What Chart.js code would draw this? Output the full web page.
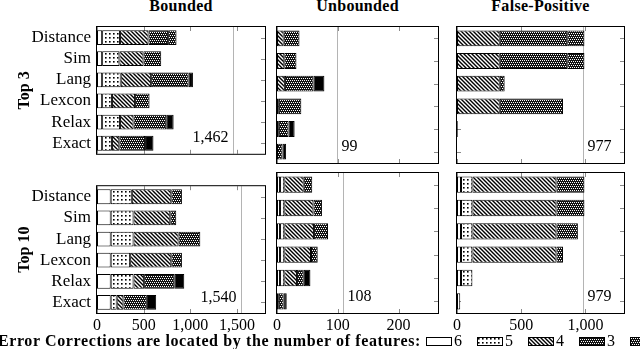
<!DOCTYPE html>
<html><head><meta charset="utf-8">
<script src="https://cdn.jsdelivr.net/npm/chart.js@4/dist/chart.umd.min.js"></script>
<style>
body{margin:0;width:640px;height:349px;overflow:hidden;background:#fff;position:relative;font-family:'Liberation Serif',serif;color:#000}
canvas{position:absolute}
.ct{position:absolute;top:-4px;font-weight:bold;font-size:16px;line-height:20px;white-space:nowrap;transform:translateX(-50%);letter-spacing:0.3px}
.lg{position:absolute;top:331px;font-size:16px;line-height:20px;white-space:nowrap}
</style></head><body>
<script>
// ---- data ----
const categories = ['Distance','Sim','Lang','Lexcon','Relax','Exact'];
const seriesNames = ['6','5','4','3','2','1'];
const columnTitles = ['Bounded','Unbounded','False-Positive'];
const rowTitles = ['Top 3','Top 10'];
const legendTitle = 'Error Corrections are located by the number of features:';

// rows = series 6,5,4,3,2,1 ; columns = categories
const boundedTop3 = [
  [55,55,55,55,55,55],
  [192,185,199,105,192,105],
  [305,258,326,248,144,79],
  [210,190,402,155,351,276],
  [90,0,0,0,0,0],
  [0,0,46,0,79,90]
];
const boundedTop10 = [
  [147,147,147,147,147,147],
  [226,244,244,208,244,64],
  [423,394,483,441,114,72],
  [114,64,233,114,323,251],
  [0,0,0,0,0,0],
  [0,0,0,0,107,100]
];
const unboundedTop3 = [
  [0,0,0,0,0,0],
  [0,0,0,0,3,0],
  [11,12,13,3,0,0],
  [26,20,47,37,16,9],
  [0,0,0,0,0,0],
  [0,0,18,0,10,6]
];
const unboundedTop10 = [
  [5,5,5,5,5,3],
  [7,7,7,7,7,0],
  [32,48,49,44,21,0],
  [14,14,23,11,11,8],
  [0,0,0,0,0,0],
  [0,0,0,0,11,5]
];
const falsePositiveTop3 = [
  [0,0,0,0,0,0],
  [0,0,0,0,0,0],
  [333,333,333,333,0,0],
  [525,525,38,492,0,0],
  [134,134,0,0,0,0],
  [0,0,0,0,6,0]
];
const falsePositiveTop10 = [
  [31,31,31,31,31,25],
  [89,89,89,89,89,0],
  [654,654,654,654,0,0],
  [218,218,167,51,0,0],
  [0,0,0,0,0,0],
  [0,0,0,0,0,0]
];
const boundedTotals = [1462, 1540];
const unboundedTotals = [99, 108];
const falsePositiveTotals = [977, 979];
const boundedTicks = [0,500,1000,1500];
const unboundedTicks = [0,100,200];
const falsePositiveTicks = [0,500,1000];
const boundedMax = 1800, unboundedMax = 265, falsePositiveMax = 1300;

// ---- patterns ----
function tile(w,h,fn){const c=document.createElement('canvas');c.width=w;c.height=h;const g=c.getContext('2d');fn(g);return g.createPattern(c,'repeat');}
function makeFill(i){
  switch(i){
    case 0: return '#ffffff';
    case 1: return tile(4,4,g=>{g.fillStyle='#fff';g.fillRect(0,0,4,4);g.fillStyle='#000';g.fillRect(1,1,1.6,1.6);});
    case 2: return tile(4,4,g=>{g.fillStyle='#fff';g.fillRect(0,0,4,4);g.strokeStyle='#000';g.lineWidth=1.4;g.beginPath();
      g.moveTo(-1,-1);g.lineTo(5,5);g.moveTo(-1,3);g.lineTo(1,5);g.moveTo(3,-1);g.lineTo(5,1);g.stroke();});
    case 3: return tile(4,4,g=>{g.fillStyle='#111';g.fillRect(0,0,4,4);g.fillStyle='#fff';g.fillRect(0,0,1,1);g.fillRect(2,0,1,1);g.fillRect(1,2,1,1);g.fillRect(3,2,1,1);});
    case 4: return tile(4,4,g=>{g.fillStyle='#111';g.fillRect(0,0,4,4);g.fillStyle='#fff';g.fillRect(1,1,1,1);g.fillRect(3,1,1,1);g.fillRect(0,3,1,1);g.fillRect(2,3,1,1);});
    default: return '#000000';
  }
}
const fills = seriesNames.map((_,i)=>makeFill(i));

const FAM = "'Liberation Serif', 'Times New Roman', serif";
Chart.defaults.font.family = FAM;
Chart.defaults.font.size = 16;
Chart.defaults.color = '#000';

const framePlugin = {
  id:'frame',
  beforeDatasetsDraw(chart){
    const o = chart.options.plugins.frame; const a = chart.chartArea; const ctx = chart.ctx;
    const xs = chart.scales.x, ys = chart.scales.y;
    ctx.save();
    ctx.strokeStyle = '#8a8a8a'; ctx.lineWidth = 1;
    ctx.beginPath();
    o.ticks.forEach(v=>{const x=Math.round(xs.getPixelForValue(v))+0.5;ctx.moveTo(x,a.top);ctx.lineTo(x,a.top+4);ctx.moveTo(x,a.bottom);ctx.lineTo(x,a.bottom-4);});
    categories.forEach((c,i)=>{const y=Math.round(ys.getPixelForValue(i))+0.5;ctx.moveTo(a.left,y);ctx.lineTo(a.left+4,y);ctx.moveTo(a.right,y);ctx.lineTo(a.right-4,y);});
    ctx.stroke();
    // total line
    const tx = Math.round(xs.getPixelForValue(o.total))+0.5;
    ctx.strokeStyle = '#b4b4b4';
    ctx.beginPath();ctx.moveTo(tx,a.top);ctx.lineTo(tx,a.bottom);ctx.stroke();
    ctx.fillStyle='#000';ctx.font="16px "+FAM;ctx.textBaseline='middle';
    const ty = ys.getPixelForValue(categories.length-1)-5;
    const label = o.total.toLocaleString('en-US');
    if(o.align==='right'){ctx.textAlign='right';ctx.fillText(label,tx-5,ty);}else{ctx.textAlign='left';ctx.fillText(label,tx+4,ty);}
    ctx.restore();
  },
  afterDatasetsDraw(chart){
    const a = chart.chartArea; const ctx = chart.ctx;
    ctx.save();ctx.strokeStyle='#000';ctx.lineWidth=1;
    ctx.strokeRect(a.left-0.5,a.top-0.5,a.right-a.left+1,a.bottom-a.top+1);
    ctx.restore();
  }
};

const cols = [
  {left:0,width:270,padL:0,padR:5,yw:97,max:boundedMax,ticks:boundedTicks,totals:boundedTotals,align:'right',data:[boundedTop3,boundedTop10]},
  {left:270,width:170,padL:7,padR:2,max:unboundedMax,ticks:unboundedTicks,totals:unboundedTotals,align:'left',data:[unboundedTop3,unboundedTop10]},
  {left:450,width:190,padL:7,padR:16,max:falsePositiveMax,ticks:falsePositiveTicks,totals:falsePositiveTotals,align:'left',data:[falsePositiveTop3,falsePositiveTop10]}
];
const rows = [
  {top:0,height:170,padT:27,xh:7},
  {top:170,height:165,padT:3,xh:22}
];

cols.forEach((c,ci)=>{
  const t=document.createElement('div');t.className='ct';t.textContent=columnTitles[ci];
  t.style.left=(c.left+c.padL+(c.yw||0)+ (c.width-c.padL-c.padR-(c.yw||0))/2)+'px';
  document.body.appendChild(t);
  rows.forEach((r,ri)=>{
    const cv=document.createElement('canvas');
    cv.width=c.width;cv.height=r.height;cv.style.left=c.left+'px';cv.style.top=r.top+'px';
    document.body.appendChild(cv);
    const panel=c.data[ri];
    new Chart(cv,{
      type:'bar',
      data:{labels:categories,datasets:seriesNames.map((n,si)=>({
        label:n,data:panel[si].map(v=>v===0?null:v),backgroundColor:fills[si],
        borderColor:'#000',borderWidth:1,borderSkipped:false,barPercentage:0.7,categoryPercentage:1
      }))},
      options:{
        indexAxis:'y',responsive:false,animation:false,devicePixelRatio:1,
        layout:{padding:{left:c.padL,right:c.padR,top:r.padT,bottom:0}},
        plugins:{legend:{display:false},tooltip:{enabled:false},
          frame:{ticks:c.ticks,total:c.totals[ri],align:c.align}},
        scales:{
          x:{stacked:true,min:0,max:c.max,
            afterBuildTicks:s=>{s.ticks=c.ticks.map(v=>({value:v}));},
            afterFit:s=>{s.height=r.xh;},
            grid:{display:false,drawTicks:false},border:{display:false},
            ticks:{display:ri===1,padding:3,maxRotation:0,autoSkip:false,font:{family:FAM,size:16},
              callback:v=>Number(v).toLocaleString('en-US')}},
          y:{stacked:true,display:ci===0,
            afterFit:s=>{s.width=c.yw||0;},
            grid:{display:false,drawTicks:false},border:{display:false},
            ticks:{padding:6,autoSkip:false,font:{family:FAM,size:17}},
            title:{display:ci===0,text:rowTitles[ri],font:{family:FAM,size:16,weight:'bold'},padding:{top:15,bottom:0}}}
        }
      },
      plugins:[framePlugin]
    });
  });
});

// legend (HTML)
const lt=document.createElement('div');lt.className='lg';lt.style.right=(640-421)+'px';lt.style.fontWeight='bold';lt.style.letterSpacing='0.62px';lt.textContent=legendTitle;document.body.appendChild(lt);
const legendX=[426,477,528,579,630];
legendX.forEach((x,i)=>{
  const b=document.createElement('canvas');b.width=26;b.height=9;b.style.left=x+'px';b.style.top='337px';
  const g=b.getContext('2d');g.fillStyle=fills[i];g.fillRect(0,0,26,9);g.strokeStyle='#000';g.lineWidth=1;g.strokeRect(0.5,0.5,25,8);
  document.body.appendChild(b);
  const s=document.createElement('div');s.className='lg';s.style.left=(x+28)+'px';s.textContent=seriesNames[i];document.body.appendChild(s);
});
</script>
</body></html>
